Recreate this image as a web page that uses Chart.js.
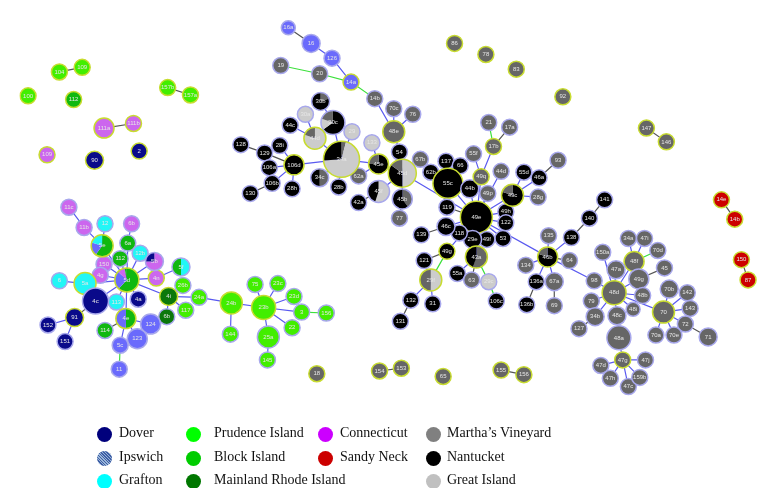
<!DOCTYPE html>
<html lang="en">
<head>
  <meta charset="UTF-8">
  <title>Haplotype network</title>
  <style>
    body { margin: 0; background: #fff; }
    .wrap { position: relative; width: 778px; height: 488px; }
    canvas { position: absolute; left: 0; top: 0; }
    .key { position: absolute; font: 14px "Liberation Serif", "DejaVu Serif", serif; color: #111; white-space: nowrap; }
    .key i { position: absolute; width: 15px; height: 15px; border-radius: 50%; top: 1px; }
    .key span { position: absolute; top: -1px; }
  </style>
</head>
<body>
  <div class="wrap">
    <canvas id="chart" width="778" height="488"></canvas>
    <div id="legend"></div>
  </div>

  <script src="https://cdn.jsdelivr.net/npm/chart.js"></script>
  <script>
    // node lists per population: [id, x, y, size]  (id "#n" suffix = duplicate label)
    const dover = [['90',79,153,9],['2',126,143,8],['4c',80,306,13],['4a',125,304,8],['91',58,324,9],['152',30,332,8],['151',48,350,8]];
    const ipswich = [['16a',283,9,7],['16',307,26,9],['126',329,42,8],['14a',349,68,8],['124',138,331,10],['123',124,347,10],['5c',106,354,8],['11',105,380,8]];
    const grafton = [['12',90,222,8],['12b',127,254,8],['6',42,284,8],['5a',69,287,11],['113',102,307,8]];
    const prudence = [['104',42,57,8],['109',66,52,8],['100',9,83,8],['157b',156,74,8],['157a',180,82,8],['26b',172,289,8],['24a',189,302,8],['117',175,316,8],
      ['24b',223,308,11],['75',248,288,8],['23c',272,287,8],['23d',289,301,8],['23b',257,313,12],['3',297,318,8],['156',323,319,8],['22',287,335,8],
      ['25a',262,345,11],['144',222,342,8],['145',261,370,8]];
    const blockIsland = [['112',57,87,8],['6a',114,243,8],['112#2',106,260,8],['114',90,338,8]];
    const mainlandRI = [['4i',157,301,9],['6b#2',155,323,8]];
    const connecticut = [['111a',89,118,10],['111b',120,113,8],['109#2',29,147,8],['11c',52,204,8],['11b',68,226,8],['6b',118,222,8],['150',89,266,8],['4g',85,278,8],['4n',144,281,8]];
    const sandyNeck = [['14e',739,196,8],['14b#2',753,217,8],['150#2',760,261,8],['87',767,283,8]];
    const marthas = [['19',275,50,8],['20',316,59,8],['14b',374,86,8],['70c',394,97,8],['76',414,103,8],['48e',394,122,11],['86',458,26,8],['78',491,38,8],
      ['83',523,54,8],['92',572,84,8],['147',660,118,8],['146',681,133,8],['21',494,112,8],['17a',516,117,8],['17b',499,138,8],['55f',478,146,8],
      ['67b',422,152,8],['62a',357,170,8],['49q',486,171,8],['44d#2',507,165,8],['49p',493,189,8],['28g',546,193,8],['93',567,153,8],['77',400,216,8],
      ['63',476,283,8],['135',557,235,8],['134',533,267,8],['64',579,262,8],['67a',563,285,9],['69',563,311,8],['127',589,336,8],['98',605,284,8],
      ['79',602,306,8],['34a#2',641,238,8],['47i',658,238,8],['70d',672,251,8],['150a',614,253,8],['48f',647,263,10],['47a',628,272,9],['45',679,270,8],
      ['49g#2',652,282,10],['48d',626,297,12],['48b',656,300,8],['70b',684,293,9],['142',703,297,8],['143',706,314,8],['70',678,318,11],['72',701,331,8],
      ['71',725,345,9],['70a',670,343,8],['70e',689,343,8],['48i',646,315,7],['48c',629,322,9],['34b',606,323,9],['48a',631,346,12],['47g',635,370,8],
      ['47d',612,376,8],['47j',659,370,8],['47h',622,390,8],['47c',641,399,8],['159b',653,389,8],['18',313,385,8],['154',379,382,8],['153',402,379,8],
      ['65',446,388,8],['155',507,381,8],['156#2',531,386,8]];
    const nantucket = [['44c',285,115,8],['28i',274,137,8],['128',233,136,8],['129',258,145,8],['106d',289,158,10],['106a',263,161,8],['106b',266,178,8],
      ['130',243,189,8],['28h',287,184,8],['28b',336,182,8],['54',400,144,8],['42a',357,199,8],['137',449,154,8],['66',464,159,8],['62b',433,166,8],
      ['55c',451,178,15],['44b',474,184,9],['55d',531,166,8],['46a',547,172,8],['119',450,204,8],['49e',481,215,16],['49h',512,209,8],['122',512,221,8],
      ['53',509,238,8],['49f',492,239,8],['29e',477,239,9],['118',463,232,8],['46c',449,225,9],['139',423,234,8],['49g',450,252,8],['121',426,262,8],
      ['55a',461,276,8],['106c',502,306,8],['132',412,305,8],['31',435,309,8],['131',401,328,8],['138',581,237,8],['140',600,216,8],['141',616,196,8],
      ['136a',544,285,8],['136b',534,310,8]];
    const greatIsland = [['30a',301,103,8],['29',350,122,8],['133',371,134,8],['29c',494,285,8]];

    // shared haplotypes: [id, x, y, size, [[population, share], ...]] clockwise from top
    const mixed = [
      ['30b',317,89,9,[['marthas',0.2],['nantucket',0.8]]],
      ['30c',330,112,12,[['nantucket',0.65],['greatIsland',0.15],['marthas',0.2]]],
      ['44d',311,129,11,[['greatIsland',0.8],['marthas',0.2]]],
      ['34a',339,152,18,[['marthas',0.04],['greatIsland',0.7],['nantucket',0.26]]],
      ['34c',316,172,9,[['marthas',0.5],['nantucket',0.5]]],
      ['45e',378,157,10,[['nantucket',0.75],['marthas',0.25]]],
      ['45d',403,167,14,[['greatIsland',0.5],['nantucket',0.35],['marthas',0.15]]],
      ['45f',378,187,11,[['greatIsland',0.55],['nantucket',0.45]]],
      ['45b',403,195,10,[['marthas',0.4],['nantucket',0.6]]],
      ['49c',519,191,11,[['nantucket',0.8],['marthas',0.2]]],
      ['43a',481,258,11,[['marthas',0.55],['nantucket',0.45]]],
      ['29f',433,283,11,[['greatIsland',0.5],['marthas',0.5]]],
      ['46b',556,258,10,[['nantucket',0.8],['marthas',0.2]]],
      ['5e',87,246,11,[['blockIsland',0.6],['ipswich',0.2],['grafton',0.2]]],
      ['5d',113,283,12,[['blockIsland',0.62],['ipswich',0.25],['connecticut',0.1],['blockIsland',0.03]]],
      ['5b',142,263,9,[['connecticut',0.75],['dover',0.25]]],
      ['5f',170,269,9,[['grafton',0.5],['blockIsland',0.5]]],
      ['4e',112,325,10,[['blockIsland',0.5],['ipswich',0.5]]]
    ];

    // links by line colour
    const blueEdges = [['16','126'],['126','14a'],['14b','48e'],['70c','48e'],['76','48e'],['48e','54'],['54','45d'],
      ['30b','30c'],['30a','44d'],['30c','34a'],['44c','44d'],['44d','34a'],['29','34a'],['28i','106d'],['106a','106d'],['106b','106d'],
      ['28h','106d'],['106d','34a'],['34a','28b'],['34a','45e'],['133','45e'],['62a','45e'],['45e','45d'],['45f','45d'],['45b','45d'],
      ['67b','45d'],['45d','49e'],['55c','49e'],['44b','49e'],['49p','49e'],['49q','49e'],['55f','49q'],['17b','49q'],['44d#2','49e'],
      ['66','55c'],['49c','49e'],['55d','49c'],['46a','49c'],['28g','49c'],['49h','49e'],['122','49e'],['53','49e'],['49f','49e'],
      ['29e','49e'],['118','49e'],['46c','49e'],['49g','49e'],['29f','132'],['29f','31'],['43a','49e'],['55a','43a'],
      ['49e','46b'],['46b','135'],['46b','138'],['46b','134'],['46b','136a'],['46b','67a'],['46b','98'],['98','48d'],
      ['48d','79'],['48d','48f'],['48f','34a#2'],['48f','47i'],['150a','48d'],['47a','48d'],['49g#2','48d'],['48d','48b'],['48d','48i'],
      ['48d','48c'],['48d','34b'],['48c','48a'],['48a','47g'],['47g','47d'],['47g','47j'],['47g','47h'],['47g','47c'],['47g','159b'],
      ['48d','70'],['70','70b'],['70','142'],['70','143'],['70','72'],['70','70a'],['70','70e'],
      ['11c','11b'],['11b','5e'],['12','5e'],['5e','5d'],['6b','6a'],['6a','5d'],['112#2','5d'],['12b','5d'],['5b','5d'],['150','5d'],
      ['4g','5d'],['5d','4n'],['5f','4n'],['5d','4i'],['4i','24a'],['4i','117'],['4i','6b#2'],['4i','26b'],['6','5a'],['5a','5d'],
      ['4c','5d'],['113','5d'],['4a','5d'],['5d','4e'],['4e','124'],['4e','123'],['4e','5c'],['91','152'],['91','151'],
      ['24a','24b'],['24b','144'],['24b','23b'],['23b','75'],['23b','23c'],['23b','23d'],['23b','3'],['23b','22'],['23b','25a'],['25a','145']];
    const grayEdges = [['104','109'],['157b','157a'],['111a','111b'],['16a','16'],['128','129'],['129','106d'],['130','106b'],['42a','45f'],
      ['45b','77'],['17a','17b'],['137','55c'],['62b','55c'],['93','46a'],['139','46c'],['119','49e'],['121','49g'],['132','131'],['63','43a'],
      ['138','140'],['140','141'],['46b','64'],['136a','136b'],['67a','69'],['45','49g#2'],['34b','127'],['72','71'],['4c','91'],['4e','114'],
      ['154','153'],['155','156#2'],['147','146'],['14e','14b#2'],['150#2','87']];
    const greenEdges = [['19','20'],['20','14a'],['14a','14b'],['34a','34c'],['21','17b'],['49g','29f'],['43a','29c'],['29c','106c'],
      ['48f','70d'],['3','156'],['5c','11']];

    // nodes drawn with the yellow ring
    const ringed = ['104','109','100','112','157b','157a','111a','111b','109#2','90','2','86','78','83','92','147','146','14e','14b#2',
      '150#2','87','18','154','153','65','155','156#2','14a','48e','44d','106d','34a','45e','45d','55c','49q','17b','49c','49e','49g',
      '43a','29f','46b','48f','48d','70','47g','5e','5d','5a','4n','4i','91','24b','23b','4e'];

    const legendRows = [
      ['dover','Dover'],['ipswich','Ipswich'],['grafton','Grafton'],
      ['prudence','Prudence Island'],['blockIsland','Block Island'],['mainlandRI','Mainland Rhode Island'],
      ['connecticut','Connecticut'],['sandyNeck','Sandy Neck'],[null,''],
      ['marthas','Martha\u2019s Vineyard'],['nantucket','Nantucket'],['greatIsland','Great Island']
    ];

    const groups = { dover, ipswich, grafton, prudence, blockIsland, mainlandRI, connecticut, sandyNeck, marthas, nantucket, greatIsland };
    const fill = {
      dover: '#0a0a8a', ipswich: '#6a6afc', grafton: '#22f6f6', prudence: '#42ee00', blockIsland: '#10b810',
      mainlandRI: '#0b780b', connecticut: '#cc66ee', sandyNeck: '#cc0000', marthas: '#666666', nantucket: '#000000', greatIsland: '#cccccc'
    };
    const swatch = {
      dover: '#00007c', ipswich: 'repeating-linear-gradient(45deg,#3d5ea6 0 1px,#9ab6d8 1px 2px)', grafton: '#00ffff',
      prudence: '#00ff00', blockIsland: '#00cc00', mainlandRI: '#007700', connecticut: '#cc00ff', sandyNeck: '#cc0000',
      marthas: '#808080', nantucket: '#000000', greatIsland: '#c0c0c0'
    };
    const RING = '#c8dc30', HALO = '#a8a8ec';

    const byId = {};
    Object.values(groups).forEach(list => list.forEach(n => { byId[n[0]] = n; }));
    mixed.forEach(n => { byId[n[0]] = n; });

    function edgePoints(list) {
      const pts = [];
      list.forEach(([a, b]) => {
        pts.push({ x: byId[a][1], y: byId[a][2] }, { x: byId[b][1], y: byId[b][2] }, { x: NaN, y: NaN });
      });
      return pts;
    }
    const edgeSet = (data, color) => ({
      type: 'scatter', data: edgePoints(data), showLine: true, spanGaps: false,
      borderColor: color, borderWidth: 1.2, pointRadius: 0, order: 10
    });
    const nodeSet = (list, color) => ({
      type: 'bubble', order: 1,
      data: list.map(n => ({ x: n[1], y: n[2], r: n[3] })),
      backgroundColor: color,
      borderColor: list.map(n => ringed.includes(n[0]) ? RING : HALO),
      borderWidth: 1.5
    });

    const datasets = [
      edgeSet(blueEdges, '#5a5af0'), edgeSet(grayEdges, '#555555'), edgeSet(greenEdges, '#3ce03c')
    ];
    Object.keys(groups).forEach(g => datasets.push(nodeSet(groups[g], fill[g])));
    datasets.push(Object.assign(nodeSet(mixed, 'rgba(0,0,0,0)'), { borderColor: 'rgba(0,0,0,0)' }));

    // pie slices for shared haplotypes, then the haplotype names
    const decor = {
      id: 'decor',
      afterDatasetsDraw(chart) {
        const c = chart.ctx, sx = chart.scales.x, sy = chart.scales.y;
        c.save();
        mixed.forEach(([id, x, y, r, parts]) => {
          const px = sx.getPixelForValue(x), py = sy.getPixelForValue(y);
          let a = -Math.PI / 2;
          parts.forEach(([g, share]) => {
            const b = a + share * Math.PI * 2;
            c.beginPath(); c.moveTo(px, py); c.arc(px, py, r, a, b); c.closePath();
            c.fillStyle = fill[g]; c.fill();
            a = b;
          });
          c.beginPath(); c.arc(px, py, r, 0, Math.PI * 2);
          c.lineWidth = 1.5; c.strokeStyle = ringed.includes(id) ? RING : HALO; c.stroke();
        });
        c.font = '6px "Liberation Sans", Arial, sans-serif';
        c.textAlign = 'center'; c.textBaseline = 'middle';
        Object.values(byId).forEach(n => {
          c.fillStyle = '#e6e6e6';
          c.fillText(n[0].split('#')[0], sx.getPixelForValue(n[1]), sy.getPixelForValue(n[2]));
        });
        c.restore();
      }
    };

    new Chart(document.getElementById('chart').getContext('2d'), {
      data: { datasets },
      plugins: [decor],
      options: {
        responsive: false,
        animation: false,
        events: [],
        layout: { padding: 0 },
        plugins: { legend: { display: false }, tooltip: { enabled: false } },
        scales: {
          x: { type: 'linear', min: 0, max: 778, display: false },
          y: { type: 'linear', min: 0, max: 488, reverse: true, display: false }
        }
      }
    });

    // legend, four columns of three
    const colX = [[97, 119], [186, 214], [318, 340], [426, 447]];
    const rowY = [426, 450, 473];
    const legend = document.getElementById('legend');
    legendRows.forEach(([g, text], i) => {
      if (!g) return;
      const col = Math.floor(i / 3), row = i % 3;
      const el = document.createElement('div');
      el.className = 'key';
      el.style.left = colX[col][0] + 'px';
      el.style.top = rowY[row] + 'px';
      el.innerHTML = '<i style="left:0;background:' + swatch[g] + '"></i><span style="left:' + (colX[col][1] - colX[col][0]) + 'px">' + text + '</span>';
      legend.appendChild(el);
    });
  </script>
</body>
</html>
